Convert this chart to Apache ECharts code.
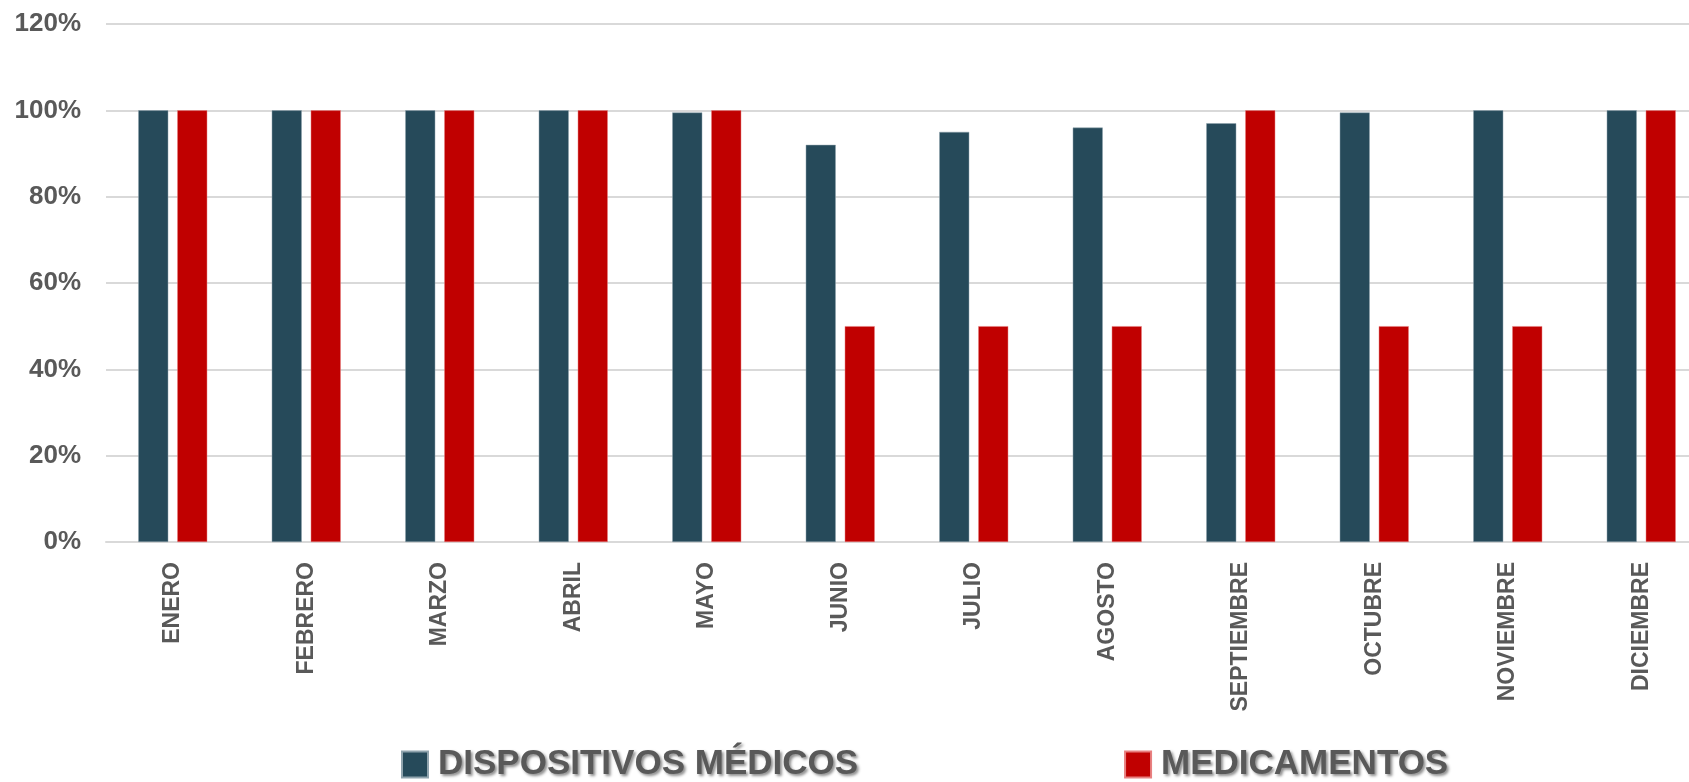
<!DOCTYPE html>
<html>
<head>
<meta charset="utf-8">
<script src="https://cdn.jsdelivr.net/npm/echarts@6/dist/echarts.min.js"></script>
<style>
html,body{margin:0;padding:0;background:#fff;}
#c{width:1689px;height:782px;}
</style>
</head>
<body>
<div id="c"></div>
<script>
const categories = ['ENERO','FEBRERO','MARZO','ABRIL','MAYO','JUNIO','JULIO','AGOSTO','SEPTIEMBRE','OCTUBRE','NOVIEMBRE','DICIEMBRE'];
const dispositivos = [100,100,100,100,99.5,92,95,96,97,99.5,100,100];
const medicamentos = [100,100,100,100,100,50,50,50,100,50,50,100];
const seriesNames = ['DISPOSITIVOS MÉDICOS','MEDICAMENTOS'];
const yTicks = {min:0,max:120,interval:20};

const chart = echarts.init(document.getElementById('c'));
const font = "'Liberation Sans', Arial, sans-serif";
chart.setOption({
  animation:false,
  backgroundColor:'#fff',
  grid:{left:106,width:1602,top:24,bottom:240,containLabel:false,outerBoundsMode:'none'},
  legend:{
    left:396, top:742,
    itemWidth:26,itemHeight:26,itemGap:266,
    icon:'rect',
    data:seriesNames,
    textStyle:{
      fontFamily:font,fontSize:35,fontWeight:'bold',color:'#595959',
      padding:[0,0,0,5],
      textShadowColor:'rgba(0,0,0,0.45)',textShadowBlur:3,textShadowOffsetX:2,textShadowOffsetY:2
    }
  },
  xAxis:{
    type:'category',data:categories,
    axisTick:{show:false},
    axisLine:{lineStyle:{color:'#D9D9D9',width:2}},
    axisLabel:{rotate:90,margin:20,interval:0,fontFamily:font,fontSize:23,fontWeight:'bold',color:'#595959'}
  },
  yAxis:{
    type:'value',min:yTicks.min,max:yTicks.max,interval:yTicks.interval,
    axisLine:{show:false},axisTick:{show:false},
    splitLine:{lineStyle:{color:'#D9D9D9',width:2}},
    axisLabel:{formatter:'{value}%',margin:25,fontFamily:font,fontSize:26,fontWeight:'bold',color:'#595959'}
  },
  series:[
    {name:seriesNames[0],type:'bar',data:dispositivos,barWidth:30,barGap:'30%',
     itemStyle:{color:'#264A5A',borderColor:'#8FA3AD',borderWidth:0.5}},
    {name:seriesNames[1],type:'bar',data:medicamentos,barWidth:30,barGap:'30%',
     itemStyle:{color:'#C00000',borderColor:'#E88080',borderWidth:0.5}}
  ]
});
</script>
</body>
</html>
